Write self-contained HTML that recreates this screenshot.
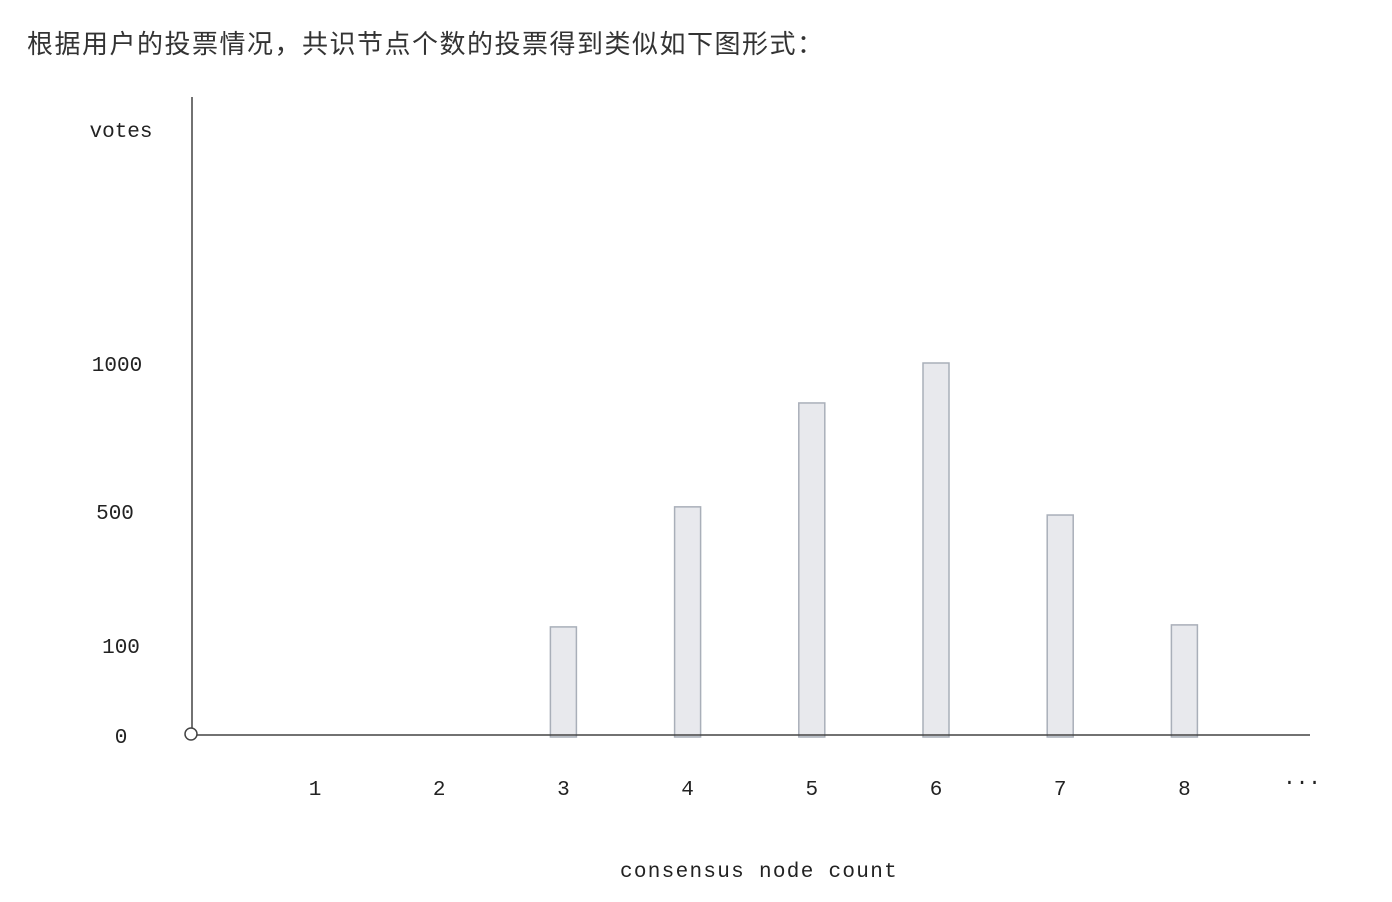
<!DOCTYPE html>
<html><head><meta charset="utf-8"><style>
html,body{margin:0;padding:0;background:#fff;width:1392px;height:902px;overflow:hidden}
.t{position:absolute;left:27px;top:24px;font:26px "Liberation Sans","Noto Sans CJK SC",sans-serif;letter-spacing:1.5px;color:#333}
</style></head><body>
<div class="t">根据用户的投票情况，共识节点个数的投票得到类似如下图形式：</div>
<svg id="c" width="1392" height="902" style="position:absolute;left:0;top:0"></svg>
<script>
const categories=[1,2,3,4,5,6,7,8];
const votes=[0,0,154,514,865,1000,488,160];
const yTickValues=[0,100,500,1000];
const yTickLabels=["0","100","500","1000"];
const yTickPix=[735,645,511,363];
const svg=document.getElementById('c');
const NS='http://www.w3.org/2000/svg';
function y(v){for(let i=0;i<yTickValues.length-1;i++){if(v<=yTickValues[i+1]){const a=yTickValues[i],b=yTickValues[i+1];return yTickPix[i]+(v-a)/(b-a)*(yTickPix[i+1]-yTickPix[i]);}}return yTickPix[yTickPix.length-1];}
function x(n){return 315+(n-1)*124.2;}
function el(t,a,txt){const e=document.createElementNS(NS,t);for(const k in a)e.setAttribute(k,a[k]);if(txt!==undefined)e.textContent=txt;svg.appendChild(e);return e;}
const font='"Liberation Mono",monospace';
let e;
e=el('line',{x1:192,y1:97,x2:192,y2:735,stroke:'#444','stroke-width':1.5});


categories.forEach((c,i)=>{if(votes[i]<=0)return;const cx=x(c),top=y(votes[i]);
const r=el('rect',{x:cx-13,y:top,width:26,height:737-top,fill:'#e8e9ed',stroke:'#a9afb9','stroke-width':1.5});

});
e=el('line',{x1:192,y1:735,x2:1310,y2:735,stroke:'#444','stroke-width':1.5});


e=el('circle',{cx:191,cy:734,r:6,fill:'#fff',stroke:'#444','stroke-width':1.5});


yTickValues.forEach((v,i)=>{const t=el('text',{x:[121,121,115,117][i],y:y(v)+8,'text-anchor':'middle','font-family':font,'font-size':21,fill:'#222'},yTickLabels[i]);

});
categories.forEach(c=>{const t=el('text',{x:x(c),y:795,'text-anchor':'middle','font-family':font,'font-size':21,fill:'#222'},String(c));

});
e=el('text',{x:1302,y:784,'text-anchor':'middle','font-family':font,'font-size':21,fill:'#222'},'...');


e=el('text',{x:121,y:137,'text-anchor':'middle','font-family':font,'font-size':21,fill:'#222'},'votes');


e=el('text',{x:759,y:877,'text-anchor':'middle','font-family':font,'font-size':21,'letter-spacing':1.3,fill:'#222'},'consensus node count');


</script>
</body></html>
